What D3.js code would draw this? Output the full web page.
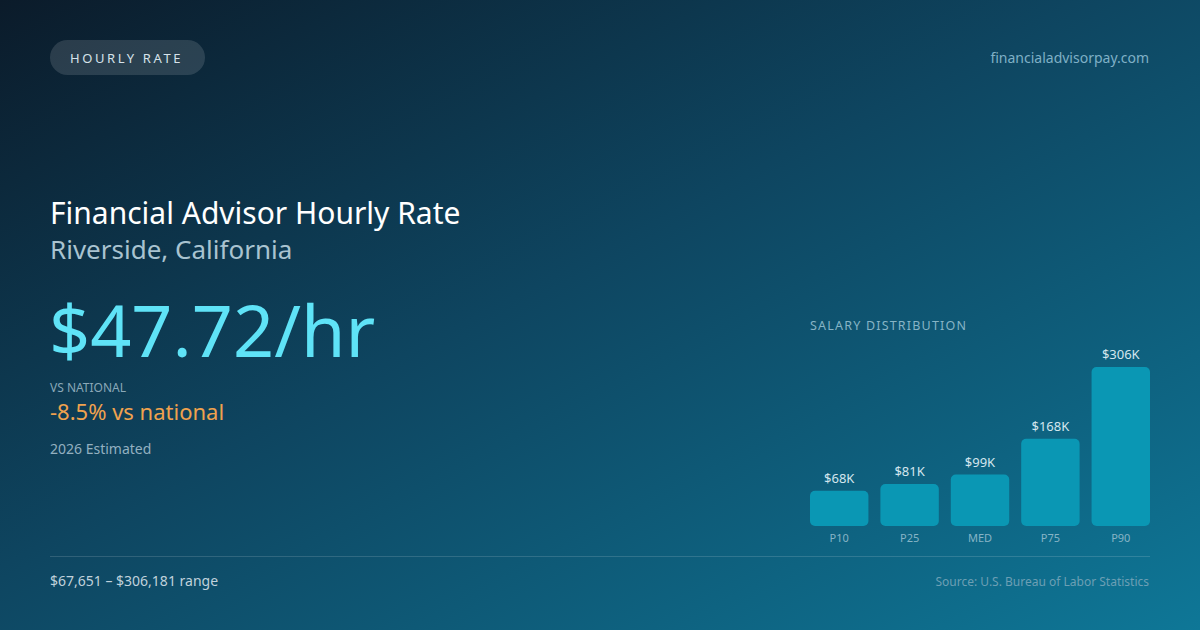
<!DOCTYPE html>
<html>
<head>
<meta charset="utf-8">
<script src="https://cdn.jsdelivr.net/npm/d3@7"></script>
<style>
  html, body { margin: 0; padding: 0; background: #0c1e2e; }
  svg { display: block; font-family: "Noto Sans", "Open Sans", sans-serif; }
</style>
</head>
<body>
<div id="card"></div>
<script>
// Salary distribution data
const percentiles = ['P10', 'P25', 'MED', 'P75', 'P90'];
const salaries = [67651, 81000, 99000, 168000, 306181];
const salaryLabels = ['$68K', '$81K', '$99K', '$168K', '$306K'];

const W = 1200, H = 630;

const svg = d3.select('#card')
  .append('svg')
  .attr('width', W)
  .attr('height', H);

// Background gradient
const defs = svg.append('defs');
const bg = defs.append('linearGradient')
  .attr('id', 'bg')
  .attr('x1', '0%').attr('y1', '0%')
  .attr('x2', '100%').attr('y2', '100%');
bg.append('stop').attr('offset', '0%').attr('stop-color', '#0b1b2a');
bg.append('stop').attr('offset', '45%').attr('stop-color', '#0e4560');
bg.append('stop').attr('offset', '100%').attr('stop-color', '#0e7797');

svg.append('rect')
  .attr('width', W)
  .attr('height', H)
  .attr('fill', 'url(#bg)');

// Pill tag
svg.append('rect')
  .attr('x', 50).attr('y', 40)
  .attr('width', 155).attr('height', 35)
  .attr('rx', 17.5)
  .attr('fill', 'rgba(255,255,255,0.13)');

svg.append('text')
  .attr('x', 70).attr('y', 62.5)
  .style('font-size', '13px')
  .style('letter-spacing', '2.6px')
  .style('fill', '#d6e2ea')
  .text('HOURLY RATE');

svg.append('text')
  .attr('x', 1149).attr('y', 63)
  .attr('text-anchor', 'end')
  .style('font-size', '14px')
  .style('fill', '#7fb0c6')
  .text('financialadvisorpay.com');

// Headline block
svg.append('text')
  .attr('x', 50).attr('y', 224)
  .style('font-size', '30px')
  .style('fill', '#ffffff')
  .text('Financial Advisor Hourly Rate');

svg.append('text')
  .attr('x', 50).attr('y', 259)
  .style('font-size', '26px')
  .style('fill', '#a9c3d0')
  .text('Riverside, California');

svg.append('text')
  .attr('x', 49).attr('y', 357)
  .style('font-size', '72px')
  .style('fill', '#5fe3f7')
  .text('$47.72/hr');

svg.append('text')
  .attr('x', 50).attr('y', 392)
  .style('font-size', '12px')
  .style('fill', '#8aa8b8')
  .text('VS NATIONAL');

svg.append('text')
  .attr('x', 50).attr('y', 420)
  .style('font-size', '22px')
  .style('fill', '#f0a24e')
  .text('-8.5% vs national');

svg.append('text')
  .attr('x', 50).attr('y', 454)
  .style('font-size', '14px')
  .style('fill', '#93b0c0')
  .text('2026 Estimated');

// Salary distribution chart
svg.append('text')
  .attr('x', 810).attr('y', 330)
  .style('font-size', '12.5px')
  .style('letter-spacing', '1.2px')
  .style('fill', '#86b4c6')
  .text('SALARY DISTRIBUTION');

const chartLeft = 810, chartRight = 1150, chartBottom = 526, chartTopMax = 367;

const xScale = d3.scaleBand()
  .domain(percentiles)
  .range([chartLeft, chartRight])
  .paddingInner(0.17)
  .paddingOuter(0);

const yScale = d3.scaleLinear()
  .domain([0, d3.max(salaries)])
  .range([chartBottom, chartTopMax]);

const bars = svg.append('g');

bars.selectAll('rect')
  .data(salaries)
  .enter()
  .append('rect')
  .attr('x', (d, i) => xScale(percentiles[i]))
  .attr('y', d => yScale(d))
  .attr('width', xScale.bandwidth())
  .attr('height', d => chartBottom - yScale(d))
  .attr('rx', 5)
  .attr('fill', '#0a97b4');

bars.selectAll('.val')
  .data(salaries)
  .enter()
  .append('text')
  .attr('class', 'val')
  .attr('x', (d, i) => xScale(percentiles[i]) + xScale.bandwidth() / 2)
  .attr('y', d => yScale(d) - 8)
  .attr('text-anchor', 'middle')
  .style('font-size', '13px')
  .style('fill', '#d4e6ee')
  .text((d, i) => salaryLabels[i]);

// Category axis (labels only)
const xAxis = svg.append('g')
  .attr('transform', `translate(0,${chartBottom})`)
  .call(d3.axisBottom(xScale).tickSize(0).tickPadding(8));
xAxis.select('.domain').remove();
xAxis.selectAll('text')
  .style('font-family', '"Noto Sans", "Open Sans", sans-serif')
  .style('font-size', '11px')
  .style('fill', '#86b4c6');

// Footer
svg.append('line')
  .attr('x1', 50).attr('x2', 1150)
  .attr('y1', 556.5).attr('y2', 556.5)
  .style('stroke', 'rgba(255,255,255,0.14)')
  .style('stroke-width', 1);

svg.append('text')
  .attr('x', 50).attr('y', 586)
  .style('font-size', '14px')
  .style('fill', '#c0d2dc')
  .text('$67,651 – $306,181 range');

svg.append('text')
  .attr('x', 1149).attr('y', 586)
  .attr('text-anchor', 'end')
  .style('font-size', '12px')
  .style('fill', '#6c9fb4')
  .text('Source: U.S. Bureau of Labor Statistics');
</script>
</body>
</html>
